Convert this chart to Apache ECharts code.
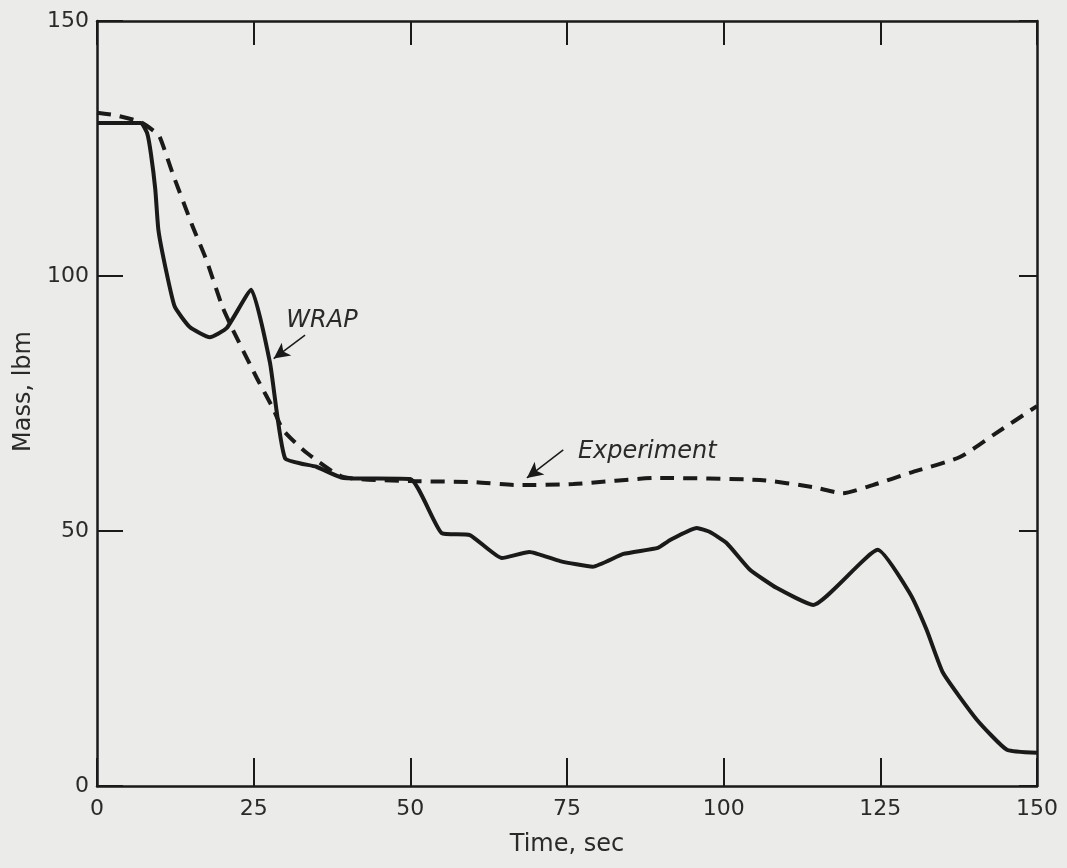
<!DOCTYPE html>
<html>
<head>
<meta charset="utf-8">
<script src="https://cdn.jsdelivr.net/npm/echarts@6/dist/echarts.min.js"></script>
<style>
html,body{margin:0;padding:0;background:#ebebea;}
#chart{width:1067px;height:868px;}
</style>
</head>
<body>
<div id="chart"></div>
<script>
// Tick labels
const xTicks = [0, 25, 50, 75, 100, 125, 150];
const yTicks = [0, 50, 100, 150];

// WRAP calculation (solid)
const wrapTime = [0, 7, 8, 8.6, 9.3, 9.8, 10.9, 12.4, 14.8, 18, 20.7, 24.6, 27.6, 30, 35, 39.3, 50, 55, 59.5, 64.6, 69, 73.9, 79.1, 84, 89.5, 91.4, 95.7, 97.8, 100.5, 104.2, 108.5, 114.3, 124.6, 129.7, 132.4, 135, 140.4, 145.2, 150];
const wrapMass = [130, 130, 128, 124, 117, 109, 101.8, 94, 90, 88, 89.8, 97.3, 83, 64.3, 62.6, 60.4, 60.2, 49.6, 49.2, 44.7, 45.9, 44.1, 43, 45.5, 46.7, 48.2, 50.6, 49.8, 47.6, 42.4, 38.8, 35.5, 46.3, 37.8, 30.6, 22.2, 13, 7.1, 6.5];

// Experiment (dashed)
const expTime = [0, 3, 6.9, 9, 10, 12.1, 15.3, 17.5, 20, 21.7, 25.5, 28.1, 29.7, 33.5, 39.3, 50, 60, 67, 76, 89.5, 105.8, 114.3, 119, 123.8, 129.7, 137.7, 143, 150];
const expMass = [132, 131.5, 130.2, 128.5, 127.3, 120, 109.6, 103, 94, 89.4, 80, 74, 69.8, 65.3, 60.6, 59.8, 59.6, 59, 59.2, 60.4, 60, 58.6, 57.4, 59, 61.4, 64.5, 68.8, 74.5];

// Annotations (data coordinates)
const wrapLabel = {text: 'WRAP', at: [35.9, 91.2], from: [33.2, 88.4], to: [28.2, 83.8]};
const expLabel = {text: 'Experiment', at: [87.8, 65.5], from: [74.4, 65.9], to: [68.6, 60.4]};

const zip = (a, b) => a.map((v, i) => [v, b[i]]);
const ink = '#1a1a1a';
const txt = '#2a2a2a';
const font = 'DejaVu Sans';

const chart = echarts.init(document.getElementById('chart'));

function axisCommon(showLabel, tickLen, margin) {
  return {
    axisLine: {show: true, onZero: false, lineStyle: {color: ink, width: 2.5}},
    axisTick: {show: true, inside: true, length: tickLen, lineStyle: {color: ink, width: 2}},
    splitLine: {show: false},
    axisLabel: {show: showLabel, margin: margin, color: txt, fontFamily: font, fontSize: 22}
  };
}

function annotation(a) {
  return {
    markPoint: {
      symbol: 'circle', symbolSize: 1, silent: true,
      itemStyle: {color: 'rgba(0,0,0,0)'},
      label: {show: true, position: 'inside', formatter: a.text, color: txt, fontFamily: font, fontStyle: 'italic', fontSize: 24},
      data: [{coord: a.at}]
    },
    markLine: {
      silent: true, symbol: ['none', 'arrow'], symbolSize: [12, 16],
      lineStyle: {color: ink, width: 1.5, type: 'solid'}, label: {show: false},
      data: [[{coord: a.from}, {coord: a.to}]]
    }
  };
}

chart.setOption({
  backgroundColor: '#ebebea',
  animation: false,
  grid: {left: 97, right: 30, top: 21, bottom: 82},
  xAxis: [
    Object.assign({type: 'value', min: 0, max: 150, interval: 25, position: 'bottom',
      name: 'Time, sec', nameLocation: 'middle', nameGap: 47,
      nameTextStyle: {color: txt, fontFamily: font, fontSize: 24}}, axisCommon(true, 28, 12)),
    Object.assign({type: 'value', min: 0, max: 150, interval: 25, position: 'top'}, axisCommon(false, 24, 8))
  ],
  yAxis: [
    Object.assign({type: 'value', min: 0, max: 150, interval: 50, position: 'left',
      name: 'Mass, lbm', nameLocation: 'middle', nameGap: 60,
      nameTextStyle: {color: txt, fontFamily: font, fontSize: 24, padding: [0, 0, 0, 24]}}, axisCommon(true, 26, 8)),
    Object.assign({type: 'value', min: 0, max: 150, interval: 50, position: 'right'}, axisCommon(false, 18, 8))
  ],
  series: [
    Object.assign({
      name: 'WRAP', type: 'line', data: zip(wrapTime, wrapMass),
      showSymbol: false, smooth: 0.15,
      lineStyle: {color: ink, width: 4}
    }, annotation(wrapLabel)),
    Object.assign({
      name: 'Experiment', type: 'line', data: zip(expTime, expMass),
      showSymbol: false, smooth: 0.2,
      lineStyle: {color: ink, width: 4, type: [14, 9]}
    }, annotation(expLabel))
  ]
});
</script>
</body>
</html>
